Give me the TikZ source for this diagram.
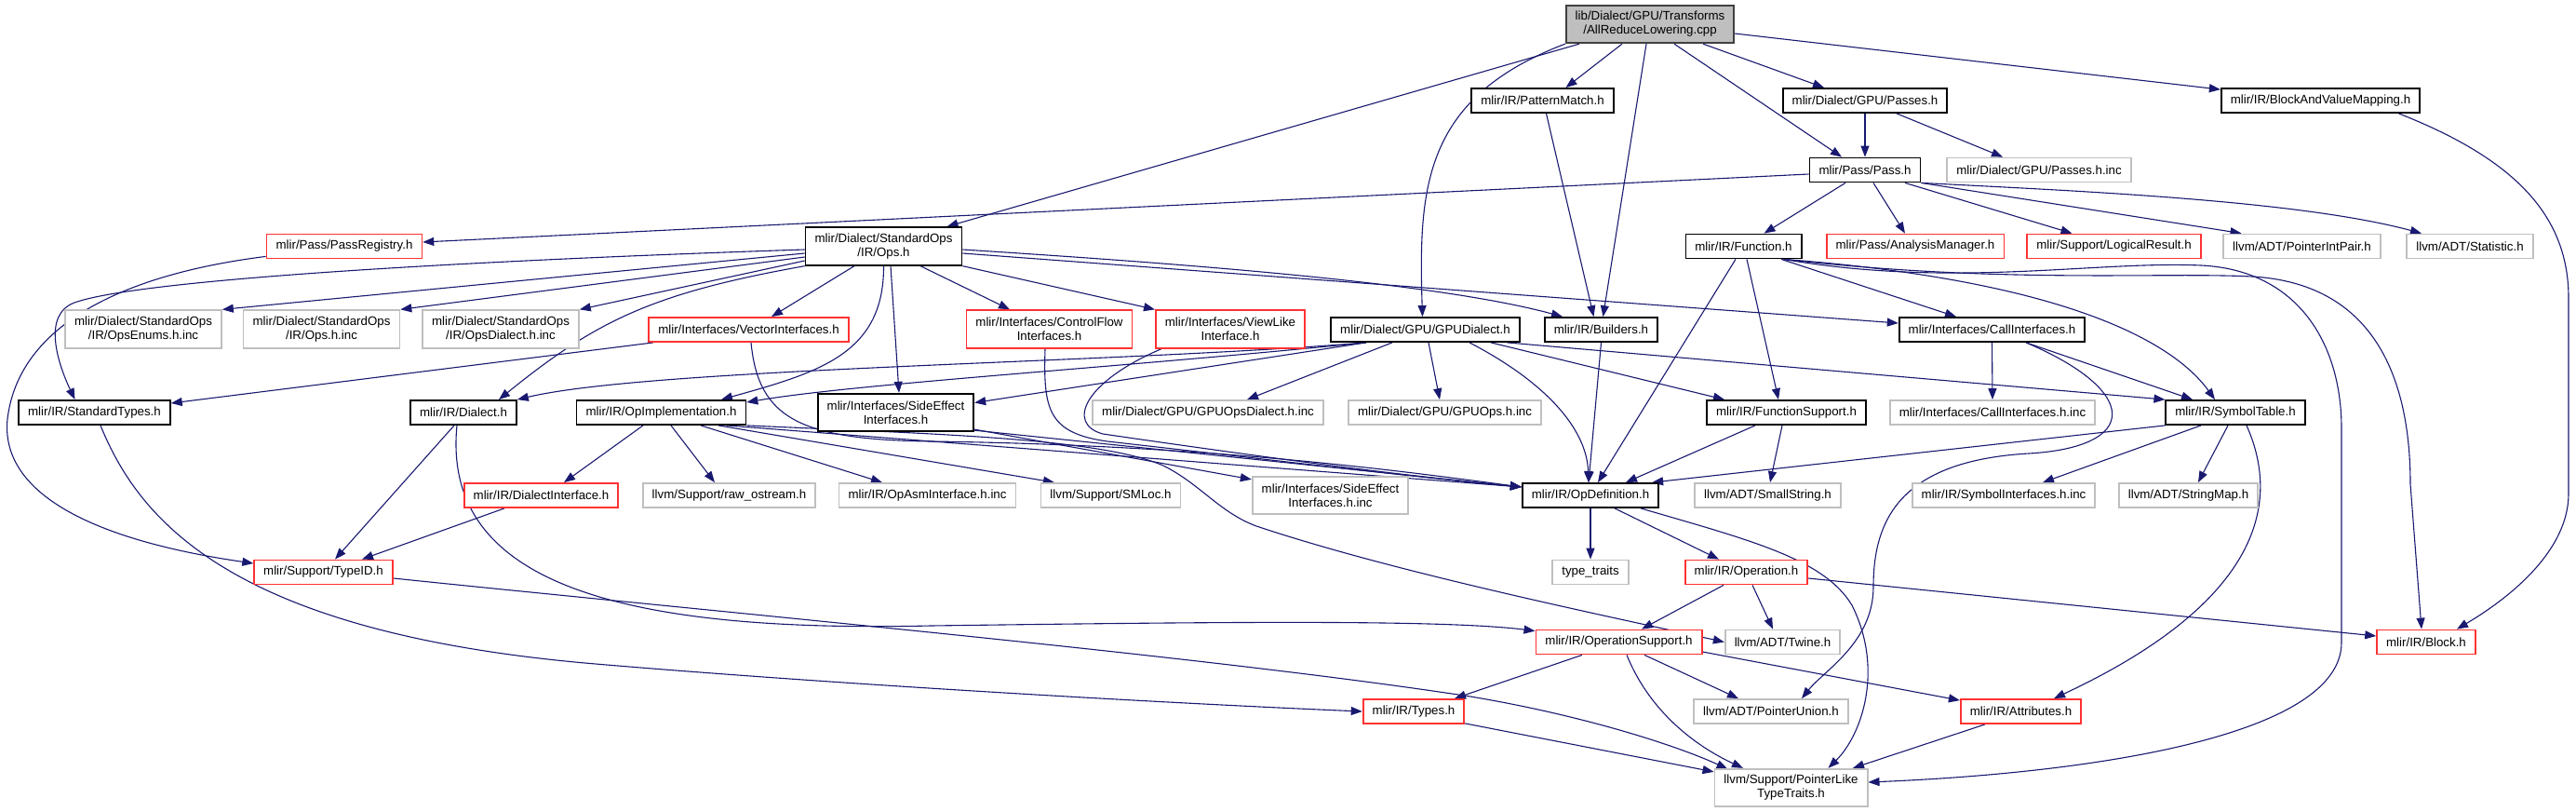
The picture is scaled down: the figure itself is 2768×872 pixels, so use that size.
\documentclass[tikz,border=0pt]{standalone}
\usepackage{fontspec}
\setmainfont{Liberation Sans}
\usepackage{xcolor}
\usepackage{tikz}
\usetikzlibrary{arrows.meta,backgrounds}

\definecolor{edgeblue}{RGB}{25,25,112}
\definecolor{grey75}{RGB}{191,191,191}
\definecolor{trunc}{RGB}{255,50,50}
\definecolor{rootline}{RGB}{64,64,64}

\begin{document}
\begin{tikzpicture}[
  x=1pt, y=-1pt,
  font=\fontsize{13.3}{15}\selectfont,
  f/.style={draw=black, line width=1.8pt, fill=white, align=center,
            inner xsep=10pt, inner ysep=0pt, minimum height=26pt},
  fr/.style={f, draw=trunc},
  fg/.style={f, draw=grey75},
  root/.style={f, draw=rootline, fill=grey75},
  two/.style={minimum height=40.5pt},
  inc/.style={->, draw=edgeblue, line width=1.1pt},
  >={Triangle[length=12pt,width=9pt]}
]
\useasboundingbox (0,0) rectangle (2768,872);

% rows of files, top to bottom
\node[root, two] (src) at (1773,26) {lib/Dialect/GPU/Transforms\\/AllReduceLowering.cpp};

\node[f] (patmatch) at (1657.5,108) {mlir/IR/PatternMatch.h};
\node[f] (passes) at (2004,108) {mlir/Dialect/GPU/Passes.h};
\node[f] (bvmap) at (2493.5,108) {mlir/IR/BlockAndValueMapping.h};

\node[f] (pass) at (2004,182.5) {mlir/Pass/Pass.h};
\node[fg] (passesinc) at (2191,182.5) {mlir/Dialect/GPU/Passes.h.inc};

\node[fr] (passreg) at (370,264.5) {mlir/Pass/PassRegistry.h};
\node[f, two] (ops) at (949.5,264.5) {mlir/Dialect/StandardOps\\/IR/Ops.h};
\node[f] (function) at (1873.5,264.5) {mlir/IR/Function.h};
\node[fr] (analysis) at (2058,264.5) {mlir/Pass/AnalysisManager.h};
\node[fr] (logical) at (2271.5,264.5) {mlir/Support/LogicalResult.h};
\node[fg] (ptrintpair) at (2473.5,264.5) {llvm/ADT/PointerIntPair.h};
\node[fg] (statistic) at (2654,264.5) {llvm/ADT/Statistic.h};

\node[fg, two] (opsenums) at (154,353.5) {mlir/Dialect/StandardOps\\/IR/OpsEnums.h.inc};
\node[fg, two] (opsinc) at (345.5,353.5) {mlir/Dialect/StandardOps\\/IR/Ops.h.inc};
\node[fg, two] (opsdialinc) at (538,353.5) {mlir/Dialect/StandardOps\\/IR/OpsDialect.h.inc};
\node[fr] (vectorif) at (804.5,354) {mlir/Interfaces/VectorInterfaces.h};
\node[fr, two] (ctrlflow) at (1127.5,353.5) {mlir/Interfaces/ControlFlow\\Interfaces.h};
\node[fr, two] (viewlike) at (1322,353.5) {mlir/Interfaces/ViewLike\\Interface.h};
\node[f] (gpudialect) at (1531.5,354) {mlir/Dialect/GPU/GPUDialect.h};
\node[f] (builders) at (1720.5,354) {mlir/IR/Builders.h};
\node[f] (callif) at (2140.5,354) {mlir/Interfaces/CallInterfaces.h};

\node[f] (stdtypes) at (101.5,443) {mlir/IR/StandardTypes.h};
\node[f] (dialect) at (498,443) {mlir/IR/Dialect.h};
\node[f] (opimpl) at (710.5,443) {mlir/IR/OpImplementation.h};
\node[f, two] (sideeff) at (962.5,443) {mlir/Interfaces/SideEffect\\Interfaces.h};
\node[fg] (gpuopsdial) at (1298,443) {mlir/Dialect/GPU/GPUOpsDialect.h.inc};
\node[fg] (gpuops) at (1552.5,443) {mlir/Dialect/GPU/GPUOps.h.inc};
\node[f] (funcsupp) at (1919.5,443) {mlir/IR/FunctionSupport.h};
\node[fg] (callifinc) at (2141,443) {mlir/Interfaces/CallInterfaces.h.inc};
\node[f] (symtable) at (2402,443) {mlir/IR/SymbolTable.h};

\node[fr] (dialectif) at (581.5,532) {mlir/IR/DialectInterface.h};
\node[fg] (rawostream) at (783.5,532) {llvm/Support/raw\_ostream.h};
\node[fg] (opasminc) at (996.5,532) {mlir/IR/OpAsmInterface.h.inc};
\node[fg] (smloc) at (1193.5,532) {llvm/Support/SMLoc.h};
\node[fg, two] (sideeffinc) at (1429.5,532) {mlir/Interfaces/SideEffect\\Interfaces.h.inc};
\node[f] (opdef) at (1709,532) {mlir/IR/OpDefinition.h};
\node[fg] (smallstr) at (1899.5,532) {llvm/ADT/SmallString.h};
\node[fg] (syminc) at (2153,532) {mlir/IR/SymbolInterfaces.h.inc};
\node[fg] (stringmap) at (2351.5,532) {llvm/ADT/StringMap.h};

\node[fr] (typeid) at (347.5,614.5) {mlir/Support/TypeID.h};
\node[fg] (typetraits) at (1709,614.5) {type\_traits};
\node[fr] (operation) at (1876.5,614.5) {mlir/IR/Operation.h};

\node[fr] (opsupport) at (1739.5,689.5) {mlir/IR/OperationSupport.h};
\node[fg] (twine) at (1915.5,689.5) {llvm/ADT/Twine.h};
\node[fr] (block) at (2607,689.5) {mlir/IR/Block.h};

\node[fr] (types) at (1519,764) {mlir/IR/Types.h};
\node[fg] (ptrunion) at (1903,764) {llvm/ADT/PointerUnion.h};
\node[fr] (attributes) at (2171.5,764) {mlir/IR/Attributes.h};

\node[fg, two] (ptrlike) at (1924.5,846) {llvm/Support/PointerLike\\TypeTraits.h};

\begin{scope}[on background layer]
% source file
\draw[inc] ([xshift=-76]src.south) -- ([xshift=68]ops.north);
\draw[inc] (src.south west) .. controls (1530,105) and (1524,200) .. ([xshift=-3]gpudialect.north);
\draw[inc] ([xshift=-30]src.south) -- ([xshift=25]patmatch.north);
\draw[inc] ([xshift=-4]src.south) -- ([xshift=2]builders.north);
\draw[inc] ([xshift=26]src.south) -- ([xshift=-25]pass.north);
\draw[inc] ([xshift=57]src.south) -- ([xshift=-44]passes.north);
\draw[inc] ([yshift=-10]src.east) -- ([yshift=-2]bvmap.north west);

\draw[inc] ([xshift=4]patmatch.south) -- ([xshift=-8]builders.north);
\draw[inc] (passes) -- (pass);
\draw[inc] ([xshift=34]passes.south) -- ([xshift=-39]passesinc.north);
\draw[inc] ([xshift=84]bvmap.south) .. controls (2700,170) and (2760,230) .. (2760,320)
  -- (2760,530) .. controls (2760,590) and (2700,640) .. ([xshift=33]block.north);

% Pass.h
\draw[inc] ([yshift=-4.5]pass.west) -- ([yshift=4.5]passreg.east);
\draw[inc] ([xshift=-21]pass.south) -- ([xshift=22]function.north);
\draw[inc] ([xshift=9]pass.south) -- ([xshift=-11]analysis.north);
\draw[inc] ([xshift=43]pass.south) -- ([xshift=-45]logical.north);
\draw[inc] (pass.south east) -- ([xshift=-65]ptrintpair.north);
\draw[inc] (pass.south east) .. controls (2230,205) and (2470,215) .. ([xshift=-52]statistic.north);
\draw[inc] ([yshift=3]passreg.south west) .. controls (130,295) and (20,350) .. (8,450)
  .. controls (0,530) and (100,580) .. ([yshift=9.5]typeid.west);

% Ops.h
\draw[inc] ([yshift=-3.5]ops.west) .. controls (500,280) and (150,300) .. (80,325)
  .. controls (45,338) and (62,390) .. ([xshift=-21]stdtypes.north);
\draw[inc] ([yshift=-7.5]ops.west) -- (opsenums.north east);
\draw[inc] ([yshift=-11.5]ops.west) -- (opsinc.north east);
\draw[inc] ([yshift=-15.5]ops.west) -- (opsdialinc.north east);
\draw[inc] (ops.south west) .. controls (700,315) and (640,345) .. ([xshift=38]dialect.north);
\draw[inc] ([xshift=-31.5]ops.south) -- ([xshift=24.5]vectorif.north);
\draw[inc] (ops.south) .. controls (950,380) and (880,400) .. ([xshift=64.5]opimpl.north);
\draw[inc] ([xshift=7.5]ops.south) -- ([xshift=3.5]sideeff.north);
\draw[inc] ([xshift=39.5]ops.south) -- ([xshift=-42.5]ctrlflow.north);
\draw[inc] (ops.south east) -- (viewlike.north west);
\draw[inc] ([yshift=-3.5]ops.east) .. controls (1300,285) and (1550,305) .. ([xshift=-41.5]builders.north);
\draw[inc] ([yshift=-7.5]ops.east) -- ([yshift=7]callif.west);

% interfaces into OpDefinition.h
\draw[inc] ([xshift=-102.5]vectorif.south) -- ([yshift=10]stdtypes.east);
\draw[inc] ([xshift=2.5]vectorif.south) .. controls (815,450) and (860,472) .. (1000,474)
  .. controls (1300,478) and (1500,505) .. ([yshift=9]opdef.west);
\draw[inc] ([xshift=-4.5]ctrlflow.south) .. controls (1121,440) and (1126,465) .. (1190,474)
  .. controls (1350,492) and (1500,510) .. ([yshift=9]opdef.west);
\draw[inc] ([xshift=7]viewlike.south west) .. controls (1165,410) and (1145,455) .. (1185,466)
  .. controls (1350,490) and (1500,510) .. ([yshift=9]opdef.west);

% GPUDialect.h
\draw[inc] ([xshift=-63.5]gpudialect.south) .. controls (1200,390) and (700,395) .. (dialect.north east);
\draw[inc] ([xshift=-63.5]gpudialect.south) .. controls (1200,395) and (920,412) .. ([yshift=11]opimpl.east);
\draw[inc] ([xshift=-63.5]gpudialect.south) -- ([yshift=10.5]sideeff.east);
\draw[inc] ([xshift=-35.5]gpudialect.south) -- ([xshift=42]gpuopsdial.north);
\draw[inc] ([xshift=3.5]gpudialect.south) -- ([xshift=-5.5]gpuops.north);
\draw[inc] ([xshift=47.5]gpudialect.south) .. controls (1660,410) and (1705,460) .. ([xshift=-2]opdef.north);
\draw[inc] ([xshift=70.5]gpudialect.south) -- ([xshift=-66.5]funcsupp.north);
\draw[inc] ([xshift=88]gpudialect.south) -- (symtable.north west);
\draw[inc] (builders.south) -- ([xshift=-2]opdef.north);

% Function.h
\draw[inc] ([xshift=-8.5]function.south) -- ([xshift=8]opdef.north);
\draw[inc] ([xshift=3.5]function.south) -- ([xshift=-8.5]funcsupp.north);
\draw[inc] ([xshift=40.5]function.south) -- ([xshift=-38.5]callif.north);
\draw[inc] ([xshift=43]function.south) .. controls (2200,300) and (2330,360) .. ([xshift=-22]symtable.north);
\draw[inc] ([xshift=43]function.south) .. controls (2100,310) and (2250,280) .. (2365,285)
  .. controls (2470,290) and (2516,370) .. (2516,460) -- (2516,690)
  .. controls (2516,790) and (2250,830) .. ([yshift=6]ptrlike.east);
\draw[inc] ([xshift=43]function.south) .. controls (2150,305) and (2320,292) .. (2420,297)
  .. controls (2560,305) and (2590,420) .. (2590,520) -- ([xshift=-5]block.north);

% CallInterfaces.h, SymbolTable.h, FunctionSupport.h
\draw[inc] (callif.south) -- (callifinc.north);
\draw[inc] ([xshift=36.5]callif.south) -- ([xshift=-46]symtable.north);
\draw[inc] ([xshift=36.5]callif.south) .. controls (2300,420) and (2300,480) .. (2180,487)
  .. controls (2040,495) and (2013,560) .. (2013,630)
  .. controls (2013,690) and (1960,720) .. ([xshift=33]ptrunion.north);
\draw[inc] (symtable.south west) -- ([xshift=-8]opdef.north east);
\draw[inc] ([xshift=-37]symtable.south) -- ([xshift=42]syminc.north);
\draw[inc] ([xshift=-8]symtable.south) -- ([xshift=10.5]stringmap.north);
\draw[inc] ([xshift=12]symtable.south) .. controls (2460,560) and (2400,660) .. ([xshift=35.5]attributes.north);
\draw[inc] ([xshift=-33.5]funcsupp.south) -- ([xshift=38]opdef.north);
\draw[inc] ([xshift=-4.5]funcsupp.south) -- ([xshift=2.5]smallstr.north);

% OpImplementation.h, SideEffectInterfaces.h
\draw[inc] ([xshift=-19.5]opimpl.south) -- ([xshift=24.5]dialectif.north);
\draw[inc] ([xshift=10.5]opimpl.south) -- ([xshift=-15.5]rawostream.north);
\draw[inc] ([xshift=42.5]opimpl.south) -- ([xshift=-48.5]opasminc.north);
\draw[inc] ([xshift=61.5]opimpl.south) -- ([xshift=-60.5]smloc.north);
\draw[inc] ([xshift=70]opimpl.south) -- ([yshift=9]opdef.west);
\draw[inc] (opimpl.south east) .. controls (1000,466) and (1180,470) .. (1250,500)
  .. controls (1290,520) and (1310,550) .. (1350,565)
  .. controls (1500,615) and (1720,660) .. (twine.west);
\draw[inc] ([yshift=3]sideeff.south east) -- ([yshift=-4]sideeffinc.north west);
\draw[inc] ([yshift=2]sideeff.south east) -- ([yshift=9]opdef.west);

% Dialect.h, TypeID.h
\draw[inc] ([xshift=-10]dialect.south) -- ([xshift=12.5]typeid.north);
\draw[inc] ([xshift=-7]dialect.south) .. controls (475,620) and (650,680) .. (1000,672)
  .. controls (1300,668) and (1550,665) .. ([yshift=-2]opsupport.north west);
\draw[inc] ([xshift=-39.5]dialectif.south) -- ([xshift=41.5]typeid.north);
\draw[inc] ([yshift=-6.5]typeid.east) .. controls (800,660) and (1300,705) .. (1580,748)
  .. controls (1700,768) and (1800,800) .. ([xshift=15,yshift=-1]ptrlike.north west);
\draw[inc] ([xshift=6.5]stdtypes.south) .. controls (150,560) and (250,680) .. (640,713)
  .. controls (900,735) and (1250,755) .. (types.west);

% OpDefinition.h and below
\draw[inc] (opdef.south) -- (typetraits.north);
\draw[inc] ([xshift=26]opdef.south) -- ([xshift=-29.5]operation.north);
\draw[inc] ([xshift=54]opdef.south) .. controls (1880,580) and (1960,600) .. (1990,650)
  .. controls (2025,720) and (2000,790) .. ([xshift=40]ptrlike.north);
\draw[inc] ([xshift=-24.5]operation.south) -- ([xshift=24.5]opsupport.north);
\draw[inc] ([xshift=6.5]operation.south) -- ([xshift=-10.5]twine.north);
\draw[inc] ([yshift=-6.5]operation.east) -- ([yshift=6.5]block.west);
\draw[inc] ([xshift=-39.5]opsupport.south) -- ([xshift=44]types.north);
\draw[inc] ([xshift=8.5]opsupport.south) .. controls (1775,770) and (1830,805) .. ([xshift=-51.5]ptrlike.north);
\draw[inc] ([xshift=27.5]opsupport.south) -- ([xshift=-35]ptrunion.north);
\draw[inc] ([yshift=-10.5]opsupport.east) -- ([yshift=-2]attributes.north west);
\draw[inc] ([yshift=1]types.south east) -- ([yshift=-4]ptrlike.north west);
\draw[inc] ([xshift=-38.5]attributes.south) -- ([xshift=66.5]ptrlike.north);
\end{scope}
\end{tikzpicture}
\end{document}
